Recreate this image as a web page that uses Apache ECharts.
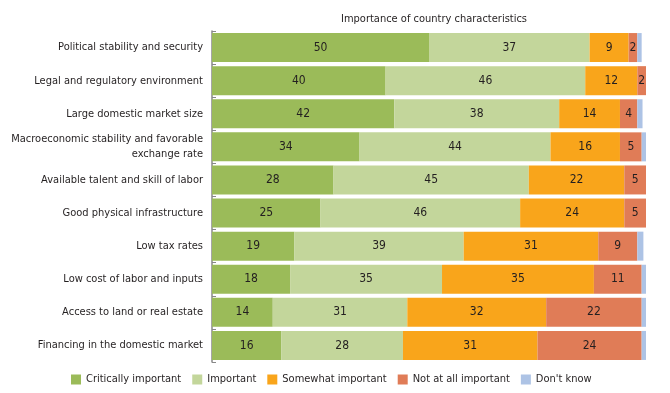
<!DOCTYPE html>
<html><head><meta charset="utf-8">
<script src="https://cdn.jsdelivr.net/npm/echarts@6/dist/echarts.min.js"></script>
<style>html,body{margin:0;padding:0;background:#fff}#c{width:670px;height:393px}</style>
</head><body><div id="c"></div>
<script>
const categories = ["Political stability and security","Legal and regulatory environment","Large domestic market size","Macroeconomic stability and favorable\nexchange rate","Available talent and skill of labor","Good physical infrastructure","Low tax rates","Low cost of labor and inputs","Access to land or real estate","Financing in the domestic market"];
const critical = [50,40,42,34,28,25,19,18,14,16];
const important = [37,46,38,44,45,46,39,35,31,28];
const somewhat = [9,12,14,16,22,24,31,35,32,31];
const notAtAll = [2,2,4,5,5,5,9,11,22,24];
const dontKnow = [1,1,1.2,1,1,0.8,1.4,1,1.8,1.8];
const seriesNames = ["Critically important","Important","Somewhat important","Not at all important","Don't know"];
const colors = ["#9bbb59","#c3d69b","#f9a51b","#e07c57","#adc3e5"];
const FONT = "'DejaVu Sans Condensed',sans-serif";
const chart = echarts.init(document.getElementById('c'));
const datas = [critical, important, somewhat, notAtAll, dontKnow];
chart.setOption({
  animation:false,
  title:{text:"Importance of country characteristics",left:429,top:9,textAlign:'center',textStyle:{fontFamily:FONT,fontSize:11,fontWeight:'normal',color:'#231f20'}},
  legend:{top:369,left:66,itemWidth:10,itemHeight:10,itemGap:11,icon:'rect',textStyle:{fontFamily:FONT,fontSize:11,color:'#231f20'},data:seriesNames},
  grid:{left:212,right:24,top:31,bottom:31,outerBoundsMode:'none',containLabel:false},
  xAxis:{type:'value',min:0,max:100,show:false},
  yAxis:{type:'category',data:categories,inverse:true,
    axisLine:{lineStyle:{color:'#888',width:1.5}},axisTick:{show:true,inside:true,length:4,lineStyle:{color:'#888'}},
    axisLabel:{fontFamily:FONT,fontSize:11,color:'#231f20',margin:9,lineHeight:15}},
  series: datas.map((d,i)=>({
    name:seriesNames[i],type:'bar',stack:'all',data:d,barWidth:29,
    itemStyle:{color:colors[i]},
    label:{show:i<4,position:'inside',fontFamily:FONT,fontSize:12,color:'#231f20'}
  }))
});
</script></body></html>
